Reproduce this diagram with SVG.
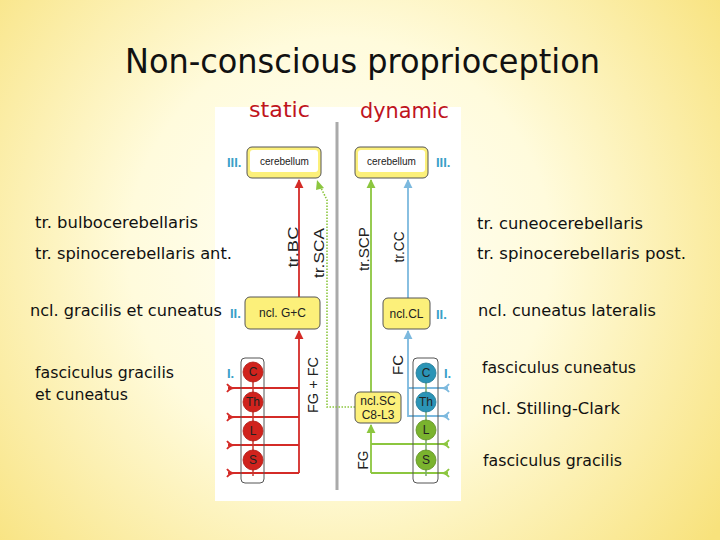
<svg xmlns="http://www.w3.org/2000/svg" width="720" height="540" viewBox="0 0 720 540">
<defs>
<radialGradient id="bg" cx="340" cy="250" r="470" gradientUnits="userSpaceOnUse">
<stop offset="0" stop-color="#fffff8"/>
<stop offset="0.45" stop-color="#fffbdc"/>
<stop offset="1" stop-color="#f8e27c"/>
</radialGradient>
<marker id="aR" viewBox="0 0 10 10" refX="9" refY="5" markerWidth="9" markerHeight="10" markerUnits="userSpaceOnUse" orient="auto"><path d="M0,0 L10,5 L0,10 Z" fill="#d42b27"/></marker>
<marker id="aG" viewBox="0 0 10 10" refX="9" refY="5" markerWidth="9" markerHeight="10" markerUnits="userSpaceOnUse" orient="auto"><path d="M0,0 L10,5 L0,10 Z" fill="#8cc63f"/></marker>
<marker id="aB" viewBox="0 0 10 10" refX="9" refY="5" markerWidth="9" markerHeight="10" markerUnits="userSpaceOnUse" orient="auto"><path d="M0,0 L10,5 L0,10 Z" fill="#7cb9de"/></marker>
</defs>
<style>
.lbl{font-family:"DejaVu Sans","Liberation Sans",sans-serif;font-size:15px;fill:#111}
.hd{font-family:"DejaVu Sans","Liberation Sans",sans-serif;font-size:22px;fill:#c0141c}
.ttl{font-family:"DejaVu Sans Condensed","DejaVu Sans",sans-serif;font-size:34px;fill:#111}
.box{fill:#fcf07a;stroke:#555;stroke-width:1}
.in{fill:#fff}
.bt{font-family:"Liberation Sans",Arial,sans-serif;font-size:12px;fill:#222;text-anchor:middle}
.ct{font-family:"Liberation Sans",Arial,sans-serif;font-size:10px;fill:#222;text-anchor:middle}
.rt{font-family:"Liberation Sans",Arial,sans-serif;font-size:15px;fill:#222;text-anchor:middle;dominant-baseline:central}
.lv{font-family:"Liberation Sans",Arial,sans-serif;font-size:13px;font-weight:bold;fill:#3aa0c8}
.red{stroke:#d42b27;stroke-width:1.8;fill:none}
.grn{stroke:#8cc63f;stroke-width:1.8;fill:none}
.blu{stroke:#7cb9de;stroke-width:1.8;fill:none}
.seg{fill:none;stroke:#555;stroke-width:1}
.ltr{font-family:"Liberation Sans",Arial,sans-serif;font-size:12px;fill:#222;text-anchor:middle;dominant-baseline:central}
</style>
<rect width="720" height="540" fill="url(#bg)"/>
<rect x="215" y="107" width="246" height="394" fill="#fff"/>
<line x1="337" y1="122" x2="337" y2="490" stroke="#aaa" stroke-width="3"/>

<text class="ttl" x="125" y="73" textLength="475" lengthAdjust="spacingAndGlyphs">Non-conscious proprioception</text>
<text class="hd" x="249" y="117" textLength="61" lengthAdjust="spacingAndGlyphs">static</text>
<text class="hd" x="360" y="118" textLength="89" lengthAdjust="spacingAndGlyphs">dynamic</text>

<g id="left-labels">
<text class="lbl" x="35" y="228" textLength="163" lengthAdjust="spacingAndGlyphs">tr. bulbocerebellaris</text>
<text class="lbl" x="35" y="259" textLength="197" lengthAdjust="spacingAndGlyphs">tr. spinocerebellaris ant.</text>
<text class="lbl" x="30" y="316" textLength="192" lengthAdjust="spacingAndGlyphs">ncl. gracilis et cuneatus</text>
<text class="lbl" x="35" y="378" textLength="139" lengthAdjust="spacingAndGlyphs">fasciculus gracilis</text>
<text class="lbl" x="35" y="400" textLength="93" lengthAdjust="spacingAndGlyphs">et cuneatus</text>
</g>
<g id="right-labels">
<text class="lbl" x="477" y="229" textLength="166" lengthAdjust="spacingAndGlyphs">tr. cuneocerebellaris</text>
<text class="lbl" x="477" y="259" textLength="209" lengthAdjust="spacingAndGlyphs">tr. spinocerebellaris post.</text>
<text class="lbl" x="478" y="316" textLength="178" lengthAdjust="spacingAndGlyphs">ncl. cuneatus lateralis</text>
<text class="lbl" x="482" y="373" textLength="154" lengthAdjust="spacingAndGlyphs">fasciculus cuneatus</text>
<text class="lbl" x="482" y="414" textLength="138" lengthAdjust="spacingAndGlyphs">ncl. Stilling-Clark</text>
<text class="lbl" x="483" y="466" textLength="139" lengthAdjust="spacingAndGlyphs">fasciculus gracilis</text>
</g>

<g id="connectors">
<line class="red" x1="299" y1="297" x2="299" y2="180" marker-end="url(#aR)"/>
<line class="red" x1="299" y1="473" x2="299" y2="331" marker-end="url(#aR)"/>
<path class="red" d="M228,388 H299 M228,417 H299 M228,445 H299 M228,473 H299"/>
<path class="red" stroke-width="1.5" d="M227,384 Q230,388 234,388 M227,392 Q230,388 234,388 M227,413 Q230,417 234,417 M227,421 Q230,417 234,417 M227,441 Q230,445 234,445 M227,449 Q230,445 234,445 M227,469 Q230,473 234,473 M227,477 Q230,473 234,473"/>
<path fill="none" stroke="#8cc63f" stroke-width="1.6" stroke-dasharray="1.5 1.5" d="M355,407 H327 V200 L320,186"/>
<path d="M317,180 L324,188 L316,190 Z" fill="#8cc63f"/>
<line class="grn" x1="371" y1="392" x2="371" y2="180" marker-end="url(#aG)"/>
<line class="grn" x1="371" y1="473" x2="371" y2="425" marker-end="url(#aG)"/>
<path class="grn" d="M371,444 H448 M371,473 H448"/>
<path class="grn" stroke-width="1.5" d="M449,440 Q446,444 442,444 M449,448 Q446,444 442,444 M449,469 Q446,473 442,473 M449,477 Q446,473 442,473"/>
<line class="blu" x1="408" y1="298" x2="408" y2="180" marker-end="url(#aB)"/>
<path class="blu" d="M448,416 H408 V331" marker-end="url(#aB)"/>
<path class="blu" d="M408,388 H448"/>
<path class="blu" stroke-width="1.5" d="M449,384 Q446,388 442,388 M449,392 Q446,388 442,388 M449,412 Q446,416 442,416 M449,420 Q446,416 442,416"/>
</g>

<g id="path-labels">
<text class="rt" transform="translate(292,247) rotate(-90)" textLength="41" lengthAdjust="spacingAndGlyphs">tr.BC</text>
<text class="rt" transform="translate(318,253) rotate(-90)" textLength="50" lengthAdjust="spacingAndGlyphs">tr.SCA</text>
<text class="rt" transform="translate(363,249) rotate(-90)" textLength="44" lengthAdjust="spacingAndGlyphs">tr.SCP</text>
<text class="rt" transform="translate(398,247) rotate(-90)" textLength="31" lengthAdjust="spacingAndGlyphs">tr.CC</text>
<text class="rt" transform="translate(312,385) rotate(-90)" textLength="56" lengthAdjust="spacingAndGlyphs">FG + FC</text>
<text class="rt" transform="translate(397,365) rotate(-90)" textLength="20" lengthAdjust="spacingAndGlyphs">FC</text>
<text class="rt" transform="translate(362,460) rotate(-90)" textLength="19" lengthAdjust="spacingAndGlyphs">FG</text>
</g>

<g id="cerebellum-static">
<rect class="box" x="247" y="147" width="74" height="31" rx="5"/>
<rect class="in" x="250" y="150" width="68" height="22" rx="3"/>
<text class="ct" x="284.5" y="165">cerebellum</text>
<text class="lv" x="227" y="167">III.</text>
</g>
<g id="cerebellum-dynamic">
<rect class="box" x="355" y="147" width="73" height="31" rx="5"/>
<rect class="in" x="358" y="150" width="67" height="22" rx="3"/>
<text class="ct" x="391.5" y="165">cerebellum</text>
<text class="lv" x="436" y="167">III.</text>
</g>
<g id="ncl-gc">
<rect class="box" x="245" y="297" width="75" height="32" rx="5"/>
<text class="bt" x="282.5" y="317">ncl. G+C</text>
<text class="lv" x="230" y="318">II.</text>
</g>
<g id="ncl-cl">
<rect class="box" x="383" y="298" width="47" height="31" rx="5"/>
<text class="bt" x="406.5" y="318">ncl.CL</text>
<text class="lv" x="436" y="319">II.</text>
</g>
<g id="ncl-sc">
<rect class="box" x="355" y="392" width="46" height="31" rx="5"/>
<text class="bt" x="378" y="405">ncl.SC</text>
<text class="bt" x="378" y="419">C8-L3</text>
</g>
<g id="segments-static">
<rect class="seg" x="241" y="358" width="23" height="125" rx="4"/>
<line x1="253" y1="372" x2="253" y2="476" stroke="#c23a30" stroke-width="1.5"/>
<g fill="#d0231d" stroke="#b01a15" stroke-width="0.8">
<circle cx="253" cy="372" r="10"/>
<circle cx="253" cy="402" r="10"/>
<circle cx="253" cy="431" r="10"/>
<circle cx="253" cy="460" r="10"/>
</g>
<text class="ltr" x="253" y="372">C</text>
<text class="ltr" x="253" y="402">Th</text>
<text class="ltr" x="253" y="431">L</text>
<text class="ltr" x="253" y="460">S</text>
<text class="lv" x="227" y="378">I.</text>
</g>
<g id="segments-dynamic">
<rect class="seg" x="413" y="358" width="25" height="125" rx="4"/>
<line x1="426" y1="373" x2="426" y2="476" stroke="#7aa86a" stroke-width="1.5"/>
<g stroke-width="0.8">
<circle cx="426" cy="373" r="10" fill="#2b94b6" stroke="#1f7896"/>
<circle cx="426" cy="402" r="10" fill="#2b94b6" stroke="#1f7896"/>
<circle cx="426" cy="430" r="10" fill="#7ab32e" stroke="#5e9020"/>
<circle cx="426" cy="460" r="10" fill="#7ab32e" stroke="#5e9020"/>
</g>
<text class="ltr" x="426" y="373">C</text>
<text class="ltr" x="426" y="402">Th</text>
<text class="ltr" x="426" y="430">L</text>
<text class="ltr" x="426" y="460">S</text>
<text class="lv" x="444" y="378">I.</text>
</g>
</svg>
